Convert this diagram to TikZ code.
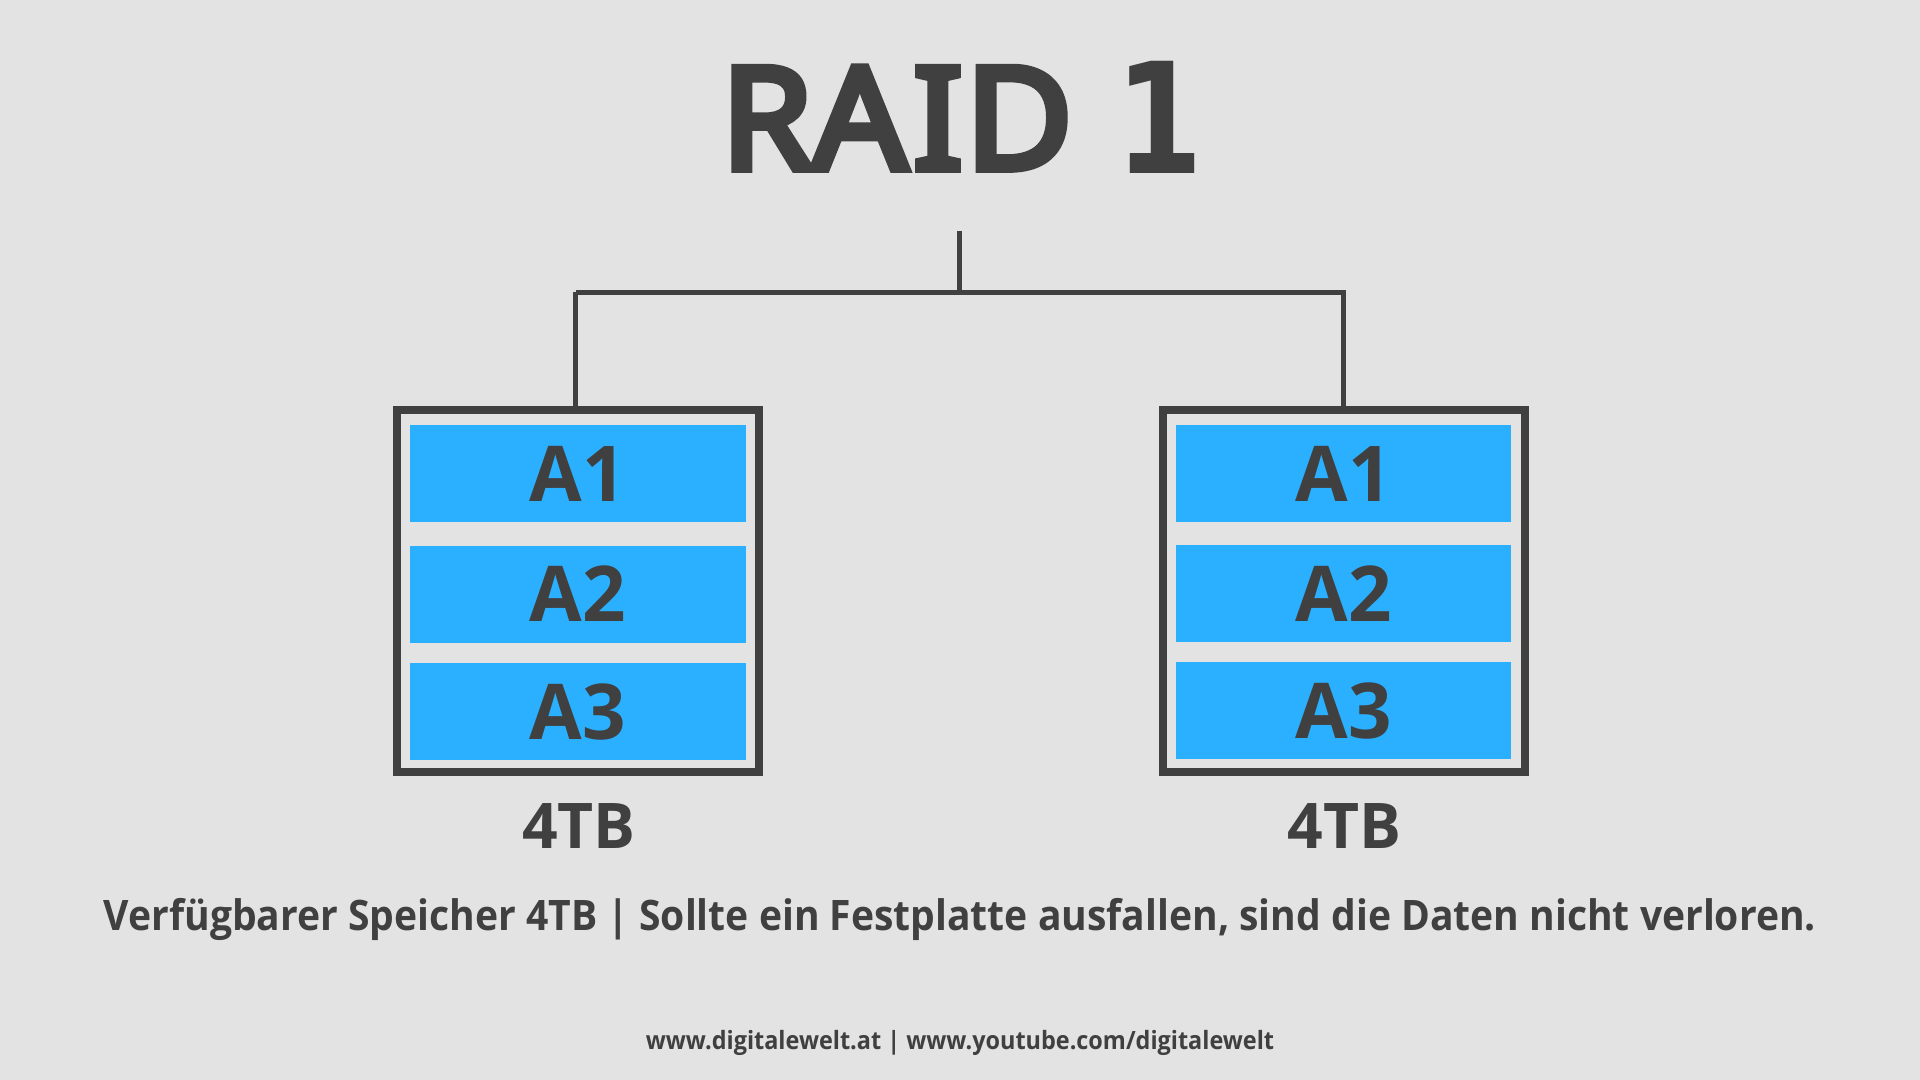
\documentclass[tikz,border=0pt]{standalone}
\usepackage{fontspec}
\setmainfont{Open Sans}
\newfontfamily\titlefont[FakeBold=5.4, FakeStretch=1.04]{Noto Sans}
\newfontfamily\digitfont[FakeStretch=0.82]{DejaVu Sans}
\newfontfamily\notefont[FakeStretch=0.93]{Open Sans}
\newfontfamily\sizefont[FakeStretch=0.99]{Open Sans}
\definecolor{pagegray}{RGB}{227, 227, 227}
\definecolor{inkgray}{RGB}{64, 64, 64}
\definecolor{blockblue}{RGB}{43, 176, 255}
\tikzset{
  link/.style={draw=inkgray, line width=2.5pt},
  disk/.style={draw=inkgray, line width=4pt, minimum width=181pt, minimum height=181pt, inner sep=0pt, outer sep=0pt},
  block/.style={fill=blockblue, text=inkgray, font=\sizefont\fontsize{38.5}{40}\selectfont\bfseries, minimum width=168pt, minimum height=48.5pt, inner sep=0pt, text height=27.5pt, text depth=0pt},
  size/.style={text=inkgray, font=\sizefont\fontsize{31.5}{34}\selectfont\bfseries, anchor=base, inner sep=0pt}
}
\begin{document}
\begin{tikzpicture}[x=0.5pt, y=-0.5pt]
        \useasboundingbox[fill=pagegray] (0,0) rectangle (1920,1080);

        % title
        \node[text=inkgray, font=\titlefont\fontsize{71}{84}\selectfont, anchor=base, inner sep=0pt] (title) at (962,169) {RA\kern3ptI\kern1ptD\kern2pt\ {\digitfont\bfseries\fontsize{77}{84}\selectfont\raisebox{-2.5pt}{1}}};

        % left disk
        \node[disk] (diskL) at (578,591) {};
        \node[block] (a1L) at (578,473.5) {A1};
        \node[block] (a2L) at (578,594) {A2};
        \node[block] (a3L) at (578,711.5) {A3};
        \node[size] (sizeL) at (579,848) {4TB};

        % right disk
        \node[disk] (diskR) at (1343.5,590.5) {};
        \node[block, minimum width=167.5pt] (a1R) at (1343.5,473.5) {A1};
        \node[block, minimum width=167.5pt] (a2R) at (1343.5,593.5) {A2};
        \node[block, minimum width=167.5pt] (a3R) at (1343.5,710.5) {A3};
        \node[size] (sizeR) at (1344.5,848) {4TB};

        % connectors
        \coordinate (stem) at (959,231);
        \coordinate (hub) at (959,292.5);
        \coordinate (bendL) at (575.5,292.5);
        \coordinate (bendR) at (1343.5,292.5);
        \draw[link] (stem) -- (hub);
        \draw[link] (bendL) -- (bendL |- diskL.north);
        \draw[link] (bendL) -- (bendR) -- (diskR.north);

        % captions
        \node[text=inkgray, font=\notefont\fontsize{21}{24}\selectfont\bfseries, anchor=base, inner sep=0pt] (note) at (960,930) {Verfügbarer Speicher 4TB | Sollte ein Festplatte ausfallen, sind die Daten nicht verloren.};
        \node[text=inkgray, font=\notefont\fontsize{12.6}{15}\selectfont\bfseries, anchor=base, inner sep=0pt] (links) at (960,1049) {www.digitalewelt.at | www.youtube.com/digitalewelt};
\end{tikzpicture}
\end{document}
